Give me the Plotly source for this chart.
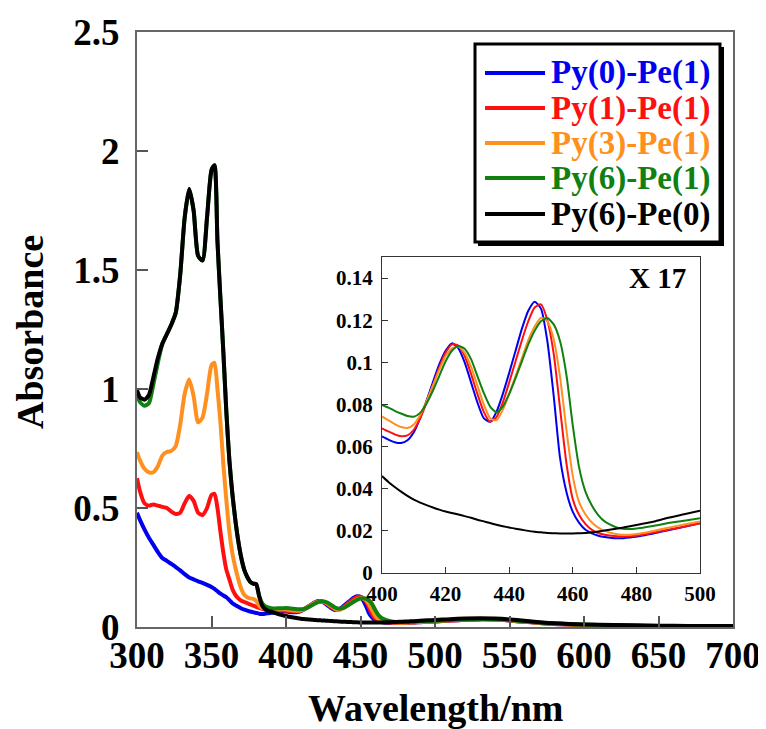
import plotly.graph_objects as go

# ---------------- data ----------------
series_names = ["Py(0)-Pe(1)", "Py(1)-Pe(1)", "Py(3)-Pe(1)", "Py(6)-Pe(1)", "Py(6)-Pe(0)"]
series_colors = ["#0000ee", "#ff1010", "#ff9020", "#108010", "#000000"]

# UV region (main plot only)
uv_wl = [300, 302, 305, 308, 311, 314, 317, 320, 323, 326, 329, 332, 335, 338, 341, 344, 347, 350,
         352, 354, 356, 358, 360, 362, 364, 366, 368, 370, 372, 374, 376, 378, 380, 382, 384, 386,
         388, 390, 393, 396, 398]
uv_blue = [0.48, 0.45, 0.41, 0.375, 0.345, 0.315, 0.29, 0.278, 0.265, 0.252, 0.238, 0.222, 0.208,
           0.200, 0.192, 0.185, 0.177, 0.168, 0.160, 0.150, 0.140, 0.132, 0.125, 0.113, 0.100, 0.092,
           0.085, 0.078, 0.073, 0.069, 0.065, 0.062, 0.059, 0.056, 0.055, 0.056, 0.058, 0.060, 0.062,
           0.064, 0.065]
uv_red = [0.625, 0.57, 0.52, 0.51, 0.515, 0.51, 0.505, 0.50, 0.485, 0.475, 0.48, 0.52, 0.55, 0.53,
          0.48, 0.47, 0.50, 0.555, 0.56, 0.50, 0.40, 0.31, 0.24, 0.20, 0.16, 0.135, 0.12, 0.11, 0.105,
          0.10, 0.095, 0.09, 0.085, 0.08, 0.076, 0.073, 0.071, 0.07, 0.069, 0.069, 0.069]
uv_orange = [0.735, 0.70, 0.665, 0.65, 0.65, 0.675, 0.72, 0.735, 0.74, 0.76, 0.85, 0.98, 1.04, 0.97,
             0.86, 0.88, 0.98, 1.10, 1.11, 1.00, 0.86, 0.68, 0.53, 0.40, 0.31, 0.25, 0.20, 0.16, 0.135,
             0.125, 0.12, 0.118, 0.11, 0.09, 0.08, 0.077, 0.076, 0.075, 0.075, 0.075, 0.075]
uv_green = [0.975, 0.945, 0.93, 0.94, 1.02, 1.11, 1.19, 1.23, 1.27, 1.32, 1.48, 1.72, 1.84, 1.75,
            1.56, 1.54, 1.72, 1.92, 1.94, 1.62, 1.38, 1.15, 0.90, 0.70, 0.56, 0.45, 0.36, 0.29, 0.24,
            0.21, 0.19, 0.182, 0.18, 0.13, 0.10, 0.087, 0.082, 0.079, 0.078, 0.079, 0.079]
uv_black = [0.995, 0.965, 0.955, 0.975, 1.05, 1.13, 1.19, 1.23, 1.27, 1.32, 1.48, 1.72, 1.84, 1.75,
            1.56, 1.54, 1.72, 1.92, 1.94, 1.62, 1.38, 1.15, 0.90, 0.70, 0.56, 0.45, 0.36, 0.29, 0.24,
            0.21, 0.19, 0.182, 0.18, 0.13, 0.09, 0.075, 0.068, 0.064, 0.058, 0.052, 0.049]

# Soret region (inset and main plot)
inset_wl = [400, 402, 404, 406, 408, 410, 412, 414, 416, 418, 420, 422, 424, 426, 428, 430, 432, 434,
            436, 438, 440, 442, 444, 446, 448, 450, 452, 454, 456, 458, 460, 462, 464, 466, 468, 470,
            474, 478, 482, 486, 490, 495, 500]
inset_blue = [0.0648, 0.0633, 0.0621, 0.0617, 0.0630, 0.0668, 0.0735, 0.0818, 0.0905, 0.0990, 0.1055,
              0.1090, 0.1068, 0.1000, 0.0905, 0.0810, 0.0735, 0.0718, 0.0765, 0.0850, 0.0950, 0.1055,
              0.1160, 0.1245, 0.1288, 0.1255, 0.1100, 0.0840, 0.0545, 0.0385, 0.0290, 0.0238, 0.0205,
              0.0188, 0.0177, 0.0171, 0.0165, 0.0169, 0.0178, 0.0190, 0.0203, 0.0220, 0.0236]
inset_red = [0.0687, 0.0672, 0.0658, 0.0649, 0.0653, 0.0680, 0.0735, 0.0808, 0.0890, 0.0975, 0.1045,
             0.1085, 0.1080, 0.1030, 0.0945, 0.0850, 0.0765, 0.0718, 0.0740, 0.0810, 0.0905, 0.1005,
             0.1105, 0.1195, 0.1260, 0.1275, 0.1200, 0.1040, 0.0780, 0.0520, 0.0350, 0.0275, 0.0232,
             0.0205, 0.0190, 0.0182, 0.0174, 0.0175, 0.0182, 0.0193, 0.0205, 0.0220, 0.0236]
inset_orange = [0.0743, 0.0725, 0.0707, 0.0693, 0.0688, 0.0705, 0.0750, 0.0815, 0.0890, 0.0965, 0.1030,
                0.1065, 0.1075, 0.1045, 0.0980, 0.0890, 0.0800, 0.0735, 0.0725, 0.0775, 0.0850, 0.0935,
                0.1020, 0.1105, 0.1170, 0.1212, 0.1195, 0.1110, 0.0930, 0.0680, 0.0460, 0.0335, 0.0278,
                0.0240, 0.0215, 0.0200, 0.0184, 0.0182, 0.0190, 0.0202, 0.0215, 0.0230, 0.0245]
inset_green = [0.0798, 0.0785, 0.0770, 0.0757, 0.0745, 0.0742, 0.0760, 0.0805, 0.0865, 0.0935, 0.1005,
               0.1055, 0.1077, 0.1065, 0.1015, 0.0935, 0.0855, 0.0790, 0.0763, 0.0790, 0.0850, 0.0925,
               0.1005, 0.1085, 0.1150, 0.1195, 0.1210, 0.1180, 0.1100, 0.0940, 0.0700, 0.0500, 0.0385,
               0.0320, 0.0275, 0.0245, 0.0215, 0.0209, 0.0215, 0.0225, 0.0237, 0.0248, 0.0260]
inset_black = [0.0460, 0.0432, 0.0408, 0.0386, 0.0366, 0.0348, 0.0334, 0.0322, 0.0311, 0.0301, 0.0292,
               0.0285, 0.0278, 0.0270, 0.0262, 0.0253, 0.0245, 0.0237, 0.0229, 0.0222, 0.0216, 0.0210,
               0.0205, 0.0200, 0.0196, 0.0193, 0.0190, 0.0189, 0.0188, 0.0188, 0.0188, 0.0189, 0.0190,
               0.0193, 0.0197, 0.0202, 0.0211, 0.0222, 0.0234, 0.0246, 0.0262, 0.0279, 0.0296]

# Q-band / visible region (main plot only)
vis_wl = [505, 510, 520, 530, 540, 550, 560, 570, 580, 590, 600, 620, 640, 660, 680, 700]
vis_blue = [0.025, 0.027, 0.030, 0.032, 0.031, 0.027, 0.022, 0.017, 0.013, 0.010, 0.008, 0.006, 0.004, 0.003, 0.002, 0.001]
vis_red = [0.025, 0.027, 0.030, 0.032, 0.031, 0.027, 0.022, 0.017, 0.013, 0.010, 0.008, 0.006, 0.004, 0.003, 0.002, 0.002]
vis_orange = [0.026, 0.028, 0.031, 0.033, 0.032, 0.028, 0.023, 0.018, 0.014, 0.011, 0.009, 0.006, 0.005, 0.004, 0.003, 0.002]
vis_green = [0.027, 0.029, 0.032, 0.034, 0.033, 0.029, 0.024, 0.019, 0.015, 0.012, 0.010, 0.007, 0.005, 0.004, 0.003, 0.002]
vis_black = [0.031, 0.033, 0.036, 0.037, 0.036, 0.032, 0.026, 0.020, 0.016, 0.013, 0.011, 0.008, 0.006, 0.005, 0.004, 0.004]

x_ticks_main = [300, 350, 400, 450, 500, 550, 600, 650, 700]
y_ticks_main = [0, 0.5, 1, 1.5, 2, 2.5]
x_ticks_inset = [400, 420, 440, 460, 480, 500]
y_ticks_inset = [0, 0.02, 0.04, 0.06, 0.08, 0.1, 0.12, 0.14]
inset_label = "X 17"
x_title = "Wavelength/nm"
y_title = "Absorbance"

uv_sets = [uv_blue, uv_red, uv_orange, uv_green, uv_black]
inset_sets = [inset_blue, inset_red, inset_orange, inset_green, inset_black]
vis_sets = [vis_blue, vis_red, vis_orange, vis_green, vis_black]

# ---------------- layout helpers ----------------
# the page body has an 8px default margin, so the figure starts at (8, 8) in the window
OFF = 8
W, H = 766 - OFF, 729 - OFF
# plot-area corners in window pixels
L, R, T, B = 137, 733, 32, 627
FONT = "Liberation Serif"


def px_x(p):
    return (p - L) / (R - L)


def px_y(p):
    return (B - p) / (B - T)


fig = go.Figure()

main_wl = uv_wl + inset_wl + vis_wl
for name, col, uv, ins, vis in zip(series_names, series_colors, uv_sets, inset_sets, vis_sets):
    fig.add_trace(go.Scatter(x=main_wl, y=uv + ins + vis, mode="lines", name=name,
                             line=dict(color=col, width=4, shape="spline", smoothing=0.6),
                             xaxis="x", yaxis="y", showlegend=False))

for name, col, ins in zip(series_names, series_colors, inset_sets):
    fig.add_trace(go.Scatter(x=inset_wl, y=ins, mode="lines", name=name,
                             line=dict(color=col, width=2, shape="spline", smoothing=0.6),
                             xaxis="x2", yaxis="y2", showlegend=False))

axis_font_big = dict(family=FONT, size=37, color="black", weight="bold")
axis_font_small = dict(family=FONT, size=21, color="black", weight="bold")

fig.update_layout(
    width=W, height=H,
    margin=dict(l=L - OFF, r=W - (R - OFF), t=T - OFF, b=H - (B - OFF), autoexpand=False),
    paper_bgcolor="white", plot_bgcolor="white",
    xaxis=dict(domain=[0, 1], range=[300, 700], tickvals=x_ticks_main, ticks="inside", ticklen=11,
               tickwidth=1.5, tickcolor="#555", showline=True, linecolor="#666", linewidth=2,
               mirror=True, showgrid=False, zeroline=False, tickfont=axis_font_big,
               ticklabelstandoff=-5, automargin=False, anchor="y"),
    yaxis=dict(domain=[0, 1], range=[0, 2.5], tickvals=y_ticks_main, ticks="inside", ticklen=11,
               tickwidth=1.5, tickcolor="#555", showline=True, linecolor="#666", linewidth=2,
               mirror=True, showgrid=False, zeroline=False, tickfont=axis_font_big,
               ticklabelstandoff=8, automargin=False, anchor="x"),
    xaxis2=dict(domain=[px_x(382), px_x(700)], range=[400, 500], tickvals=x_ticks_inset,
                ticks="inside", ticklen=6, tickwidth=1, tickcolor="#333", showline=True,
                linecolor="#333", linewidth=1.2, mirror=True, showgrid=False, zeroline=False,
                tickfont=axis_font_small, ticklabelstandoff=2, automargin=False, anchor="y2"),
    yaxis2=dict(domain=[px_y(573), px_y(257)], range=[0, 0.15], tickvals=y_ticks_inset,
                ticks="inside", ticklen=6, tickwidth=1, tickcolor="#333", showline=True,
                linecolor="#333", linewidth=1.2, mirror=True, showgrid=False, zeroline=False,
                tickfont=axis_font_small, ticklabelstandoff=4, automargin=False, anchor="x2"),
    showlegend=False,
)

# axis titles
fig.add_annotation(x=0.5, y=px_y(708), xref="paper", yref="paper", text=x_title, showarrow=False,
                   xanchor="center", yanchor="middle",
                   font=dict(family=FONT, size=38, color="black", weight="bold"))
fig.add_annotation(x=px_x(30), y=px_y(332), xref="paper", yref="paper", text=y_title, showarrow=False,
                   xanchor="center", yanchor="middle", textangle=-90,
                   font=dict(family=FONT, size=38, color="black", weight="bold"))

# inset label
fig.add_annotation(x=1 - (700 - 688) / 318, y=(573 - 278) / 316, xref="x2 domain", yref="y2 domain",
                   text=inset_label, showarrow=False, xanchor="right", yanchor="middle",
                   font=dict(family=FONT, size=29, color="black", weight="bold"))

# legend box with shadow (drawn manually)
fig.add_shape(type="rect", xref="paper", yref="paper", x0=px_x(478), x1=px_x(724), y0=px_y(246),
              y1=px_y(47), fillcolor="black", line=dict(width=0), layer="above")
fig.add_shape(type="rect", xref="paper", yref="paper", x0=px_x(475), x1=px_x(720), y0=px_y(242),
              y1=px_y(44), fillcolor="white", line=dict(color="black", width=3), layer="above")
row_y = [73, 108, 143, 178, 214]
for name, col, ry in zip(series_names, series_colors, row_y):
    fig.add_shape(type="line", xref="paper", yref="paper", x0=px_x(485), x1=px_x(545),
                  y0=px_y(ry), y1=px_y(ry), line=dict(color=col, width=4), layer="above")
    fig.add_annotation(x=px_x(549), y=px_y(ry), xref="paper", yref="paper", text=name,
                       showarrow=False, xanchor="left", yanchor="middle",
                       font=dict(family=FONT, size=33, color=col, weight="bold"))

fig.write_html("out.html")
